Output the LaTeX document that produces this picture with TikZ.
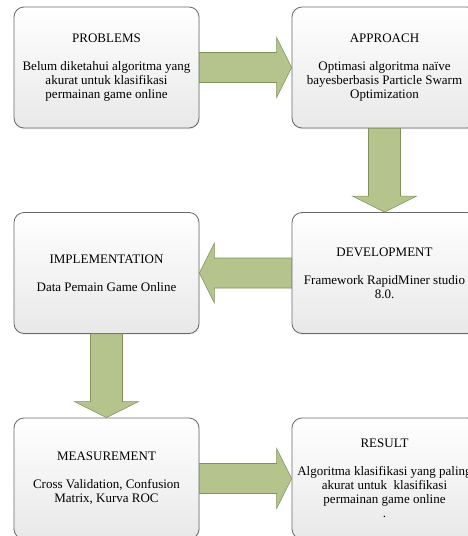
\documentclass[tikz,border=0pt]{standalone}
\usepackage{fontspec}
\setmainfont{Liberation Serif}
\usetikzlibrary{calc,shadows}
\definecolor{arrfill}{RGB}{180,196,140}
\definecolor{arrdraw}{RGB}{128,145,92}
\definecolor{boxdraw}{RGB}{105,105,105}
\newcommand\fatH[3]{% from, to, direction (1 right, -1 left)
  \draw[fatarr] ($(#1)+(0,-15)$) -- ($(#2)+(-15*#3,-15)$) -- ($(#2)+(-15*#3,-30)$) -- (#2)
    -- ($(#2)+(-15*#3,30)$) -- ($(#2)+(-15*#3,15)$) -- ($(#1)+(0,15)$) -- cycle;}
\newcommand\fatV[2]{% from, to (downwards)
  \draw[fatarr] ($(#1)+(-16,0)$) -- ($(#2)+(-16,-16)$) -- ($(#2)+(-32,-16)$) -- (#2)
    -- ($(#2)+(32,-16)$) -- ($(#2)+(16,-16)$) -- ($(#1)+(16,0)$) -- cycle;}
\begin{document}
\begin{tikzpicture}[x=1pt,y=-1pt,
  box/.style={draw=boxdraw, line width=0.8pt, rounded corners=10pt,
    top color=white, bottom color=black!9,
    minimum width=185pt, minimum height=121pt, align=center,
    font=\fontsize{13}{14}\selectfont, inner sep=0pt,
    drop shadow={opacity=0.18, shadow xshift=0.6pt, shadow yshift=-1.2pt}},
  fatarr/.style={fill=arrfill, draw=arrdraw, line width=0.6pt, line join=miter}]
\useasboundingbox (0,0) rectangle (468,536);
\fill[white] (0,0) rectangle (468,536);
\node[box] (P) at (106.5,67.5) {PROBLEMS\\[14pt]Belum diketahui algoritma yang\\akurat untuk klasifikasi\\permainan game online};
\node[box] (A) at (384.5,67.5) {APPROACH\\[14pt]Optimasi algoritma naïve\\bayesberbasis Particle Swarm\\Optimization};
\node[box] (I) at (106.5,273) {IMPLEMENTATION\\[14pt]Data Pemain Game Online};
\node[box] (D) at (384.5,273) {DEVELOPMENT\\[14pt]Framework RapidMiner studio\\8.0.};
\node[box] (M) at (106.5,478.5) {MEASUREMENT\\[14pt]Cross Validation, Confusion\\Matrix, Kurva ROC};
\node[box] (R) at (384.5,478.5) {RESULT\\[14pt]Algoritma klasifikasi yang paling\\akurat untuk\ \ klasifikasi\\permainan game online\\.};
\fatH{P.east}{A.west}{1}
\fatV{A.south}{D.north}
\fatH{D.west}{I.east}{-1}
\fatV{I.south}{M.north}
\fatH{M.east}{R.west}{1}
\end{tikzpicture}
\end{document}
